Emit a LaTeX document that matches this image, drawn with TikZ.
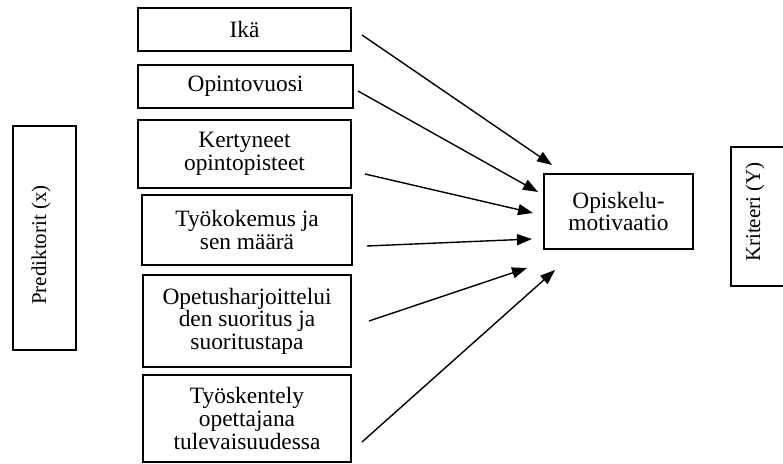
\documentclass[tikz,border=0pt]{standalone}
\usepackage{fontspec}
\setmainfont{Liberation Serif}
\usetikzlibrary{arrows.meta}

\begin{document}
\begin{tikzpicture}[x=0.5pt, y=-0.5pt,
        font=\fontsize{11.7}{11.3}\selectfont,
        box/.style={draw, line width=1.4pt, align=center, anchor=center, inner sep=0pt},
        side/.style={rotate=90, anchor=center, font=\fontsize{10.5}{11}\selectfont},
        arr/.style={-{Triangle[length=7.5pt, width=5.5pt]}, line width=0.7pt}]
        \useasboundingbox (0, 0) rectangle (783, 464);

        \node[box, minimum width=31.5pt, minimum height=112pt] (pred) at (44.5, 238) {};
        \node[side] (predtext) at (41, 245) {Prediktorit (x)};

        \node[box, minimum width=106.5pt, minimum height=21.5pt] (ika) at (244.5, 29.5) {Ikä};
        \node[box, minimum width=107.5pt, minimum height=21.5pt] (vuosi) at (245.5, 86.5) {Opintovuosi};
        \node[box, minimum width=106.5pt, minimum height=34pt] (pisteet) at (244.5, 154) {Kertyneet\\opintopisteet};
        \node[box, minimum width=105pt, minimum height=35pt] (kokemus) at (247, 230) {Työkokemus ja\\sen määrä};
        \node[box, minimum width=104pt, minimum height=46pt] (harj) at (247, 321) {Opetusharjoittelui\\den suoritus ja\\suoritustapa};
        \node[box, minimum width=104pt, minimum height=43.5pt] (tyo) at (247, 418.5) {Työskentely\\opettajana\\tulevaisuudessa};

        \node[box, minimum width=74.5pt, minimum height=37.5pt] (motiv) at (618.5, 211.5) {Opiskelu-\\motivaatio};

        \node[box, minimum width=30pt, minimum height=69.5pt] (krit) at (761, 216.5) {};
        \node[side] (krittext) at (755, 212) {Kriteeri (Y)};

        % arrow ends
        \coordinate (s1) at (362, 35);   \coordinate (e1) at (552, 165);
        \coordinate (s2) at (358, 91);   \coordinate (e2) at (538, 192);
        \coordinate (s3) at (365, 174);  \coordinate (e3) at (533, 213);
        \coordinate (s4) at (367, 246);  \coordinate (e4) at (532, 239);
        \coordinate (s5) at (369, 321);  \coordinate (e5) at (527, 268);
        \coordinate (s6) at (362, 442);  \coordinate (e6) at (555, 270);

        \foreach \i in {1,...,6}
            \draw[arr] (s\i) -- (e\i);

    \end{tikzpicture}
\end{document}
